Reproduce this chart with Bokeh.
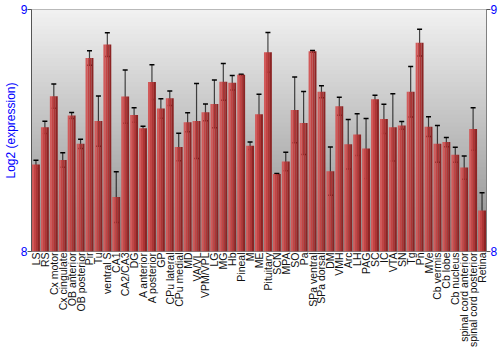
from math import pi
from bokeh.plotting import figure
from bokeh.models import (ColumnDataSource, Range1d, FixedTicker, LinearAxis,
                          Whisker, TeeHead, BoxAnnotation)
from bokeh.transform import dodge
from bokeh.embed import file_html
from bokeh.resources import INLINE

regions = ["LS", "RS", "Cx motor", "Cx cingulate", "OB anterior", "OB posterior",
           "Pir", "Tu", "ventral S", "CA1", "CA2/CA3", "DG", "A anterior",
           "A posterior", "GP", "CPu lateral", "CPu medial", "MD", "VA/VL",
           "VPM/VPL", "LG", "MG", "Hb", "Pineal", "M", "ME", "Pituitary", "SCN",
           "MPA", "SO", "Pa", "SPa ventral", "SPa dorsal", "DM", "VMH", "Arc",
           "LH", "PAG", "SC", "IC", "VTA", "SN", "Tg", "Pn", "MVe", "Cb vermis",
           "Cb lobe", "Cb nucleus", "spinal cord anterior",
           "spinal cord posterior", "Retina"]

expression = [8.360, 8.513, 8.642, 8.378, 8.562, 8.445, 8.800, 8.539, 8.855,
              8.225, 8.640, 8.564, 8.509, 8.700, 8.591, 8.633, 8.432, 8.534,
              8.539, 8.575, 8.610, 8.701, 8.697, 8.730, 8.437, 8.567, 8.823,
              8.320, 8.372, 8.585, 8.531, 8.827, 8.660, 8.332, 8.600, 8.443,
              8.483, 8.426, 8.629, 8.548, 8.513, 8.521, 8.660, 8.863, 8.516,
              8.445, 8.452, 8.400, 8.347, 8.506, 8.169]

error = [0.017, 0.025, 0.050, 0.030, 0.012, 0.019, 0.030, 0.104, 0.049, 0.105,
         0.110, 0.030, 0.009, 0.072, 0.040, 0.030, 0.057, 0.039, 0.155, 0.035,
         0.099, 0.076, 0.030, 0.002, 0.015, 0.083, 0.082, 0.002, 0.038, 0.136,
         0.130, 0.004, 0.025, 0.100, 0.037, 0.102, 0.086, 0.124, 0.017, 0.060,
         0.139, 0.016, 0.104, 0.055, 0.041, 0.076, 0.019, 0.031, 0.048, 0.088,
         0.074]

y_ticks = [8, 9]

src = ColumnDataSource(dict(
    region=regions,
    value=expression,
    upper=[v + e for v, e in zip(expression, error)],
    lower=[v - e for v, e in zip(expression, error)],
))

FONT = "Liberation Sans"
BLUE = "#0000ff"

p = figure(width=500, height=350, x_range=regions, y_range=Range1d(8, 9),
           output_backend="svg", toolbar_location=None,
           min_border_left=0, min_border_right=0, min_border_top=9,
           min_border_bottom=0)
p.grid.visible = False
p.background_fill_color = "#ffffff"
p.border_fill_color = "#ffffff"
p.outline_line_color = "#808080"

# vertical gray gradient background (light top -> darker bottom)
n = 60
for i in range(n):
    b = 8 + i / n
    t = 8 + (i + 1) / n + 0.004
    frac = (i + 0.5) / n  # 0 bottom -> 1 top
    g = int(140 + (242 - 140) * frac)
    p.add_layout(BoxAnnotation(bottom=b, top=t, fill_color=(g, g, g),
                               fill_alpha=1.0, line_alpha=0, level="underlay"))

# bars, drawn as vertical strips to imitate a cylinder gradient
strips = [(-0.33, "#d25a5a"), (-0.11, "#c24444"), (0.11, "#ad3535"), (0.33, "#8c2424")]
for off, col in strips:
    p.vbar(x=dodge("region", off, range=p.x_range), top="value", bottom=8,
           width=0.225, source=src, fill_color=col, line_color=None)

w = Whisker(source=src, base="region", upper="upper", lower="lower",
            line_color="black", line_alpha=0.7, line_width=1.2,
            upper_head=TeeHead(size=5, line_color="black", line_width=1.5),
            lower_head=TeeHead(size=5, line_color="black", line_width=1.5))
p.add_layout(w)

# left axis
ya = p.yaxis[0]
ya.ticker = FixedTicker(ticks=y_ticks)
ya.axis_label = "Log2 (expression)"
ya.axis_label_text_color = BLUE
ya.axis_label_text_font = FONT
ya.axis_label_text_font_size = "12px"
ya.axis_label_text_font_style = "normal"
ya.axis_label_standoff = 0
ya.major_label_text_color = BLUE
ya.major_label_text_font = FONT
ya.major_label_text_font_size = "12px"
ya.major_label_standoff = 0
ya.major_tick_out = 4
ya.major_tick_in = 0
ya.minor_tick_out = 0
ya.minor_tick_in = 0
ya.axis_line_color = "#555555"
ya.major_tick_line_color = "#555555"

# right axis
ra = LinearAxis(ticker=FixedTicker(ticks=y_ticks))
ra.major_label_text_color = BLUE
ra.major_label_text_font = FONT
ra.major_label_text_font_size = "12px"
ra.major_label_standoff = 0
ra.major_tick_out = 4
ra.major_tick_in = 0
ra.minor_tick_out = 0
ra.minor_tick_in = 0
ra.axis_line_color = "#808080"
ra.major_tick_line_color = "#555555"
p.add_layout(ra, "right")

# bottom axis
xa = p.xaxis[0]
xa.major_label_orientation = pi / 2
xa.major_label_text_font = FONT
xa.major_label_text_font_size = "10.5px"
xa.major_label_text_color = "#111111"
xa.major_label_standoff = 1
xa.major_tick_out = 0
xa.major_tick_in = 0
xa.axis_line_color = None

open("out.html", "w").write(file_html(p, INLINE))
